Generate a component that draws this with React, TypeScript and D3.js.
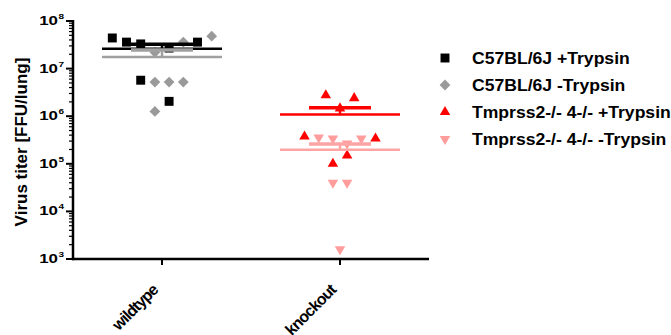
import React, { useEffect, useRef } from 'react'
import * as d3 from 'd3'

const categories = ['wildtype', 'knockout']

// values, slots are the horizontal scatter position of each point
const wtPlusValues = [4.4e7, 3.6e7, 3.3e7, 2.7e7, 3.6e7, 5.7e6, 2.05e6]
const wtPlusSlots = [-3.5, -2.5, -1.5, 0.5, 2.5, -1.5, 0.5]
const wtMinusValues = [2.2e7, 3.6e7, 4.8e7, 5.2e6, 5.2e6, 5.2e6, 1.26e6]
const wtMinusSlots = [-0.5, 1.5, 3.5, -0.5, 0.5, 1.5, -0.5]
const koPlusValues = [2.75e6, 2.4e6, 1.46e6, 3.75e5, 3.4e5, 1.49e5, 1.0e5]
const koPlusSlots = [-1, 1, 0, -2.5, 2.5, 0.5, -0.5]
const koMinusValues = [3.57e5, 3.4e5, 2.67e5, 3.4e5, 4.0e4, 4.0e4, 1.6e3]
const koMinusSlots = [-1.5, -0.5, 0.5, 1.5, -0.5, 0.5, 0]

const legendLabels = ['C57BL/6J +Trypsin', 'C57BL/6J -Trypsin', 'Tmprss2-/- 4-/- +Trypsin', 'Tmprss2-/- 4-/- -Trypsin']
const yTickExponents = [3, 4, 5, 6, 7, 8]

const FONT = '"Liberation Sans", Arial, sans-serif'

export default function App() {
  const ref = useRef<SVGSVGElement>(null)

  useEffect(() => {
    const svg = d3.select(ref.current)
    svg.selectAll('*').remove()

    const width = 671
    const height = 335
    svg.attr('viewBox', `0 0 ${width} ${height}`)

    const x = d3.scalePoint<string>().domain(categories).range([73, 429]).padding(0.5)
    const y = d3.scaleLog().domain([1e3, 1e8]).range([259, 21])
    const slot = d3.scaleLinear().domain([-1, 1]).range([-14.2, 14.2])

    const series = [
      { cat: 'wildtype', values: wtPlusValues, slots: wtPlusSlots, type: d3.symbolSquare, size: 80, rot: 0, fill: '#000000', line: '#000000' },
      { cat: 'wildtype', values: wtMinusValues, slots: wtMinusSlots, type: d3.symbolSquare, size: 58, rot: 45, fill: '#9a9a9a', line: '#a0a0a0' },
      { cat: 'knockout', values: koPlusValues, slots: koPlusSlots, type: d3.symbolTriangle, size: 48, rot: 0, fill: '#ff0000', line: '#ff0000' },
      { cat: 'knockout', values: koMinusValues, slots: koMinusSlots, type: d3.symbolTriangle, size: 48, rot: 180, fill: '#ff9c9c', line: '#ffa4a4' },
    ]

    // y axis
    const ax = svg.append('g')
    ax.append('line').attr('x1', 73).attr('x2', 73).attr('y1', y(1e8) - 1).attr('y2', y(1e3) + 1.2)
      .attr('stroke', '#000').attr('stroke-width', 2.5)
    yTickExponents.forEach(e => {
      const v = Math.pow(10, e)
      ax.append('line').attr('x1', 66).attr('x2', 73).attr('y1', y(v)).attr('y2', y(v))
        .attr('stroke', '#000').attr('stroke-width', 2)
      if (e < 8) {
        d3.range(2, 10).forEach(m => {
          ax.append('line').attr('x1', 69).attr('x2', 73).attr('y1', y(m * v)).attr('y2', y(m * v))
            .attr('stroke', '#000').attr('stroke-width', 1.2)
        })
      }
      ax.append('text').attr('transform', `translate(58,${y(v) + 4}) scale(1.3,1)`)
        .attr('text-anchor', 'end').attr('font-family', FONT).attr('font-weight', 'bold')
        .attr('font-size', 13).text('10')
      ax.append('text').attr('transform', `translate(58.5,${y(v) - 2}) scale(1.25,1)`)
        .attr('font-family', FONT).attr('font-weight', 'bold').attr('font-size', 8).text(String(e))
    })

    svg.append('text')
      .attr('transform', `translate(27,${(y(1e8) + y(1e3)) / 2 + 2}) rotate(-90)`)
      .attr('text-anchor', 'middle').attr('font-family', FONT).attr('font-weight', 'bold')
      .attr('font-size', 17).text('Virus titer [FFU/lung]')

    // x axis
    svg.append('line').attr('x1', 72).attr('x2', 429).attr('y1', 259).attr('y2', 259)
      .attr('stroke', '#000').attr('stroke-width', 2.5)
    categories.forEach(c => {
      const cx = x(c) as number
      svg.append('line').attr('x1', cx).attr('x2', cx).attr('y1', 259).attr('y2', 265)
        .attr('stroke', '#000').attr('stroke-width', 2)
      svg.append('text')
        .attr('transform', `translate(${cx - 3},${291}) rotate(-45)`)
        .attr('text-anchor', 'end').attr('font-family', FONT).attr('font-weight', 'bold')
        .attr('font-size', 16).attr('letter-spacing', -0.9).text(c)
    })

    // points
    series.forEach(s => {
      const cx = x(s.cat) as number
      const sym = d3.symbol().type(s.type).size(s.size)
      s.values.forEach((v, i) => {
        svg.append('path').attr('d', sym() as string)
          .attr('transform', `translate(${cx + slot(s.slots[i])},${y(v)}) rotate(${s.rot})`)
          .attr('fill', s.fill)
      })
    })

    // mean and SEM (upward only)
    series.forEach(s => {
      const cx = x(s.cat) as number
      const mean = d3.mean(s.values) as number
      const sem = (d3.deviation(s.values) as number) / Math.sqrt(s.values.length)
      const g = svg.append('g').attr('stroke', s.line).attr('stroke-width', 2.5)
      g.append('line').attr('x1', cx - 60).attr('x2', cx + 60).attr('y1', y(mean)).attr('y2', y(mean))
      g.append('line').attr('x1', cx).attr('x2', cx).attr('y1', y(mean)).attr('y2', y(mean + sem))
      g.append('line').attr('x1', cx - 31).attr('x2', cx + 31).attr('y1', y(mean + sem)).attr('y2', y(mean + sem))
        .attr('stroke-width', 3.5)
    })

    // legend
    series.forEach((s, i) => {
      const ly = 58 + i * 27
      const sym = d3.symbol().type(s.type).size(s.size)
      svg.append('path').attr('d', sym() as string)
        .attr('transform', `translate(445,${ly}) rotate(${s.rot})`).attr('fill', s.fill)
      svg.append('text').attr('transform', `translate(472,${ly + 6}) scale(1.1,1)`)
        .attr('font-family', FONT).attr('font-weight', 'bold').attr('font-size', 16).text(legendLabels[i])
    })
  }, [])

  return (
    <svg ref={ref} width={671} height={335}
      style={{ position: 'fixed', left: 0, top: 0, background: '#fff' }} />
  )
}
